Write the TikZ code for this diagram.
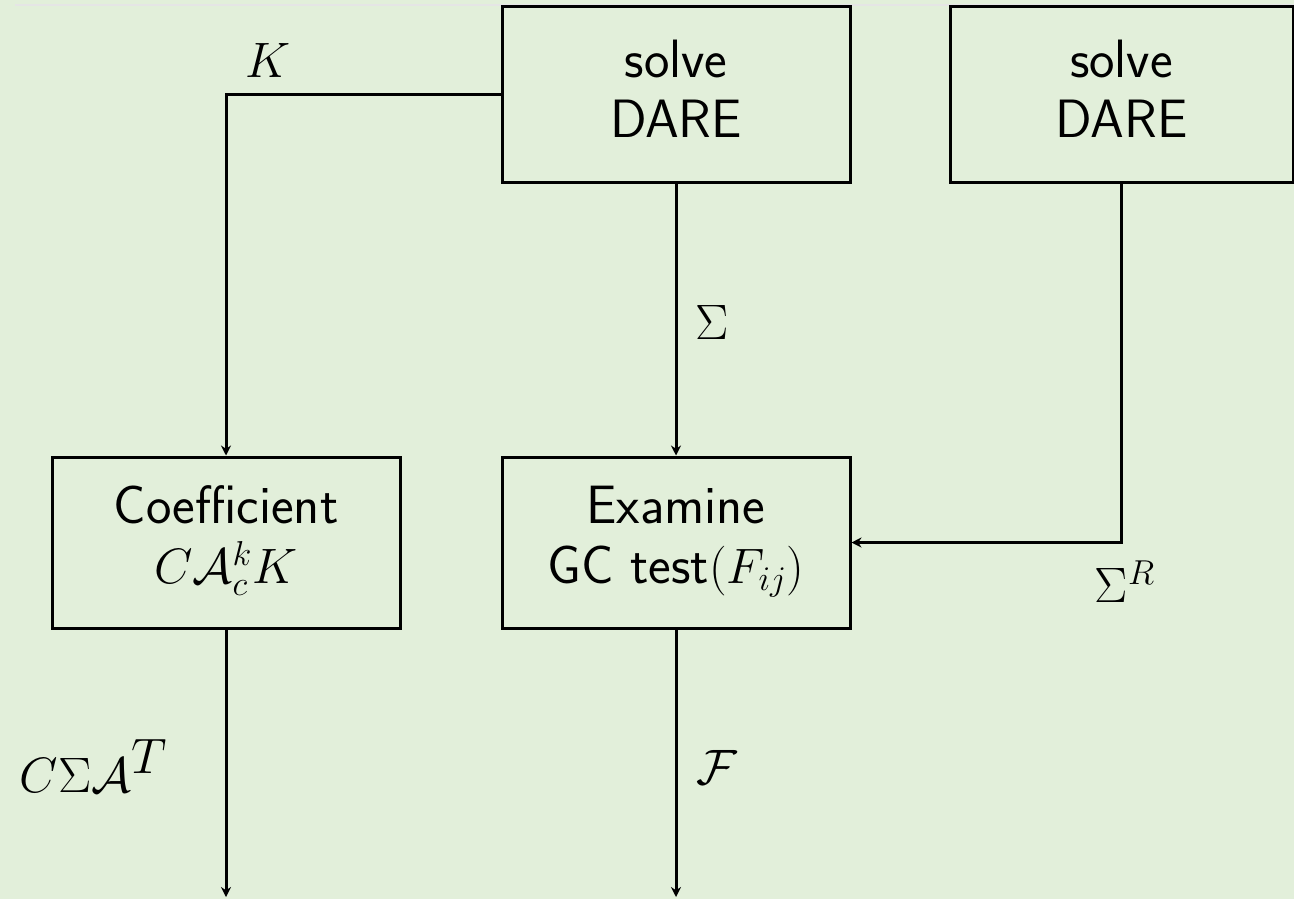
\documentclass[tikz,border=0pt]{standalone}
\usetikzlibrary{arrows.meta}
\definecolor{bg}{RGB}{226,239,218}
\begin{document}
\begin{tikzpicture}[x=0.5pt,y=-0.5pt,
  box/.style={draw=black, line width=1.5pt, align=center, font=\sffamily\fontsize{27}{30}\selectfont, inner sep=0pt},
  conn/.style={draw=black, line width=1.5pt, -{Stealth[length=5pt,width=5pt]}},
  lbl/.style={font=\fontsize{27}{30}\selectfont, inner sep=0pt}]
\fill[bg] (0,0) rectangle (1294,899);
\useasboundingbox (0,0) rectangle (1294,899);
\clip (0,0) rectangle (1294,899);
\draw[white!80!gray, line width=1pt] (15,5) -- (1294,5);
\node[box, minimum width=174pt, minimum height=87.5pt, text depth=6.2pt] (dareA) at (676,94.5) {solve\\DARE};
\node[box, minimum width=171.5pt, minimum height=87.5pt, text depth=6.2pt] (dareB) at (1121.5,94.5) {solve\\DARE};
\node[box, minimum width=174pt, minimum height=85.5pt, text depth=8pt] (coef) at (226,542.5) {Coefficient\\$C\mathcal{A}_c^kK$};
\node[box, minimum width=174pt, minimum height=85.5pt, text depth=8pt] (exam) at (676,542.5) {Examine\\GC test$(F_{ij})$};
\coordinate (outC) at (226,897);
\coordinate (outE) at (676,897);
\draw[conn] (dareA.west) -| (coef.north);
\draw[conn] (dareA.south) -- (exam.north);
\draw[conn] (dareB.south) |- (exam.east);
\draw[conn] (coef.south) -- (outC);
\draw[conn] (exam.south) -- (outE);
\node[lbl] (lK) at (268,60) {$K$};
\node[lbl] (lS) at (712,322) {$\Sigma$};
\node[lbl] (lSR) at (1125,582) {$\Sigma^R$};
\node[lbl] (lF) at (717,767) {$\mathcal{F}$};
\node[lbl, font=\fontsize{38}{42}\selectfont, anchor=base east] (lC) at (168,792) {$C\Sigma\mathcal{A}^T$};
\end{tikzpicture}
\end{document}
